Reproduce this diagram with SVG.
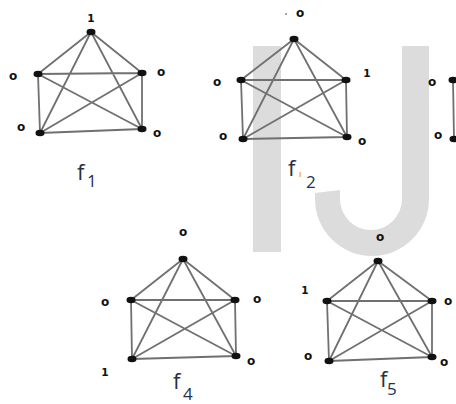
<svg xmlns="http://www.w3.org/2000/svg" width="456" height="404" viewBox="0 0 456 404">
<style>
.e{stroke:#707070;stroke-width:1.8;fill:none}
.v{fill:#111}
.lb{font-family:"DejaVu Sans",sans-serif;font-weight:bold;font-size:12px;fill:#111;text-anchor:middle}
.one{font-family:"DejaVu Sans",sans-serif;font-weight:bold;font-size:10.5px;fill:#111;text-anchor:middle}
.f{font-family:"Open Sans",sans-serif;font-size:22px;fill:#2a2f40}
.s{font-family:"Open Sans",sans-serif;font-size:17px;fill:#22324f}
.wm{fill:#dcdcdc}
</style>
<rect width="456" height="404" fill="#fff"/>
<g id="watermark">
<rect class="wm" x="253" y="46" width="28" height="206"/>
<path class="wm" d="M402,46 H429 V199 A57,57 0 0 1 315,199 L315,193 L340,190 V199 A31,31 0 0 0 402,199 Z"/>
</g>
<g id="connectors">
<path class="e" d="M91,32L38,74M91,32L142,73M91,32L40,133M91,32L142,129M38,74L142,73M38,74L40,133M38,74L142,129M142,73L40,133M142,73L142,129M40,133L142,129"/>
<path class="e" d="M294,39L241,80M294,39L346,80M294,39L243,139M294,39L347,137M241,80L346,80M241,80L243,139M241,80L347,137M346,80L243,139M346,80L347,137M243,139L347,137"/>
<path class="e" d="M453,80L454,139"/>
<path class="e" d="M183,259L131,300M183,259L235,300M183,259L132,359M183,259L236,356M131,300L235,300M131,300L132,359M131,300L236,356M235,300L132,359M235,300L236,356M132,359L236,356"/>
<path class="e" d="M378,261L327,301M378,261L432,301M378,261L329,361M378,261L432,357M327,301L432,301M327,301L329,361M327,301L432,357M432,301L329,361M432,301L432,357M329,361L432,357"/>
</g>
<g id="f1">
<g id="f1-t"><ellipse class="v" cx="91" cy="32" rx="4.5" ry="3.2"/><text class="one" x="91" y="22">1</text></g>
<g id="f1-l"><ellipse class="v" cx="38" cy="74" rx="4.5" ry="3.2"/><text class="lb" x="13" y="80">o</text></g>
<g id="f1-r"><ellipse class="v" cx="142" cy="73" rx="4.5" ry="3.2"/><text class="lb" x="161" y="76">o</text></g>
<g id="f1-bl"><ellipse class="v" cx="40" cy="133" rx="4.5" ry="3.2"/><text class="lb" x="21" y="131">o</text></g>
<g id="f1-br"><ellipse class="v" cx="142" cy="129" rx="4.5" ry="3.2"/><text class="lb" x="157" y="137">o</text></g>
<g id="f1-label"><text class="f" x="77" y="180">f</text><text class="s" x="87" y="187">1</text></g>
</g>
<g id="f2">
<g id="f2-t"><ellipse class="v" cx="294" cy="39" rx="4.5" ry="3.2"/><circle cx="286" cy="14" r="1" fill="#888"/><text class="lb" x="300" y="17">o</text></g>
<g id="f2-l"><ellipse class="v" cx="241" cy="80" rx="4.5" ry="3.2"/><text class="lb" x="217" y="86">o</text></g>
<g id="f2-r"><ellipse class="v" cx="346" cy="80" rx="4.5" ry="3.2"/><text class="one" x="367" y="77">1</text></g>
<g id="f2-bl"><ellipse class="v" cx="243" cy="139" rx="4.5" ry="3.2"/><text class="lb" x="223" y="140">o</text></g>
<g id="f2-br"><ellipse class="v" cx="347" cy="137" rx="4.5" ry="3.2"/><text class="lb" x="362" y="145">o</text></g>
<g id="f2-label"><text class="f" x="288" y="176">f</text><rect x="299.5" y="172" width="1.2" height="5" fill="#e8a060"/><text class="s" x="306" y="188">2</text></g>
</g>
<g id="f3">
<g id="f3-t"><ellipse class="v" cx="453" cy="80" rx="4.5" ry="3.2"/><text class="lb" x="432" y="86">o</text></g>
<g id="f3-b"><ellipse class="v" cx="454" cy="139" rx="4.5" ry="3.2"/><text class="lb" x="438" y="139">o</text></g>
</g>
<g id="f4">
<g id="f4-t"><ellipse class="v" cx="183" cy="259" rx="4.5" ry="3.2"/><text class="lb" x="183" y="236">o</text></g>
<g id="f4-l"><ellipse class="v" cx="131" cy="300" rx="4.5" ry="3.2"/><text class="lb" x="105" y="306">o</text></g>
<g id="f4-r"><ellipse class="v" cx="235" cy="300" rx="4.5" ry="3.2"/><text class="lb" x="257" y="303">o</text></g>
<g id="f4-bl"><ellipse class="v" cx="132" cy="359" rx="4.5" ry="3.2"/><text class="one" x="105" y="376">1</text></g>
<g id="f4-br"><ellipse class="v" cx="236" cy="356" rx="4.5" ry="3.2"/><text class="lb" x="251" y="365">o</text></g>
<g id="f4-label"><text class="f" x="173" y="389">f</text><text class="s" x="183" y="400">4</text></g>
</g>
<g id="f5">
<g id="f5-t"><ellipse class="v" cx="378" cy="261" rx="4.5" ry="3.2"/><text class="lb" x="380" y="241">o</text></g>
<g id="f5-l"><ellipse class="v" cx="327" cy="301" rx="4.5" ry="3.2"/><text class="one" x="305" y="294">1</text></g>
<g id="f5-r"><ellipse class="v" cx="432" cy="301" rx="4.5" ry="3.2"/><text class="lb" x="448" y="305">o</text></g>
<g id="f5-bl"><ellipse class="v" cx="329" cy="361" rx="4.5" ry="3.2"/><text class="lb" x="308" y="360">o</text></g>
<g id="f5-br"><ellipse class="v" cx="432" cy="357" rx="4.5" ry="3.2"/><text class="lb" x="444" y="366">o</text></g>
<g id="f5-label"><text class="f" x="380" y="387">f</text><text class="s" x="387" y="395">5</text></g>
</g>
</svg>
